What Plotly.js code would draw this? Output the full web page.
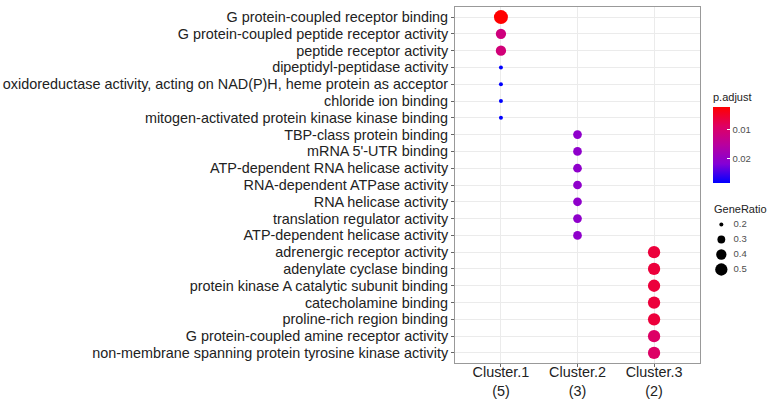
<!DOCTYPE html>
<html>
<head>
<meta charset="utf-8">
<script src="https://cdn.plot.ly/plotly-3.0.1.min.js"></script>
<style>html,body{margin:0;padding:0;background:#fff;}#chart{width:768px;height:400px;}</style>
</head>
<body>
<div id="chart"></div>
<script>
// ---- data ----
var clusterLabels = ["Cluster.1<br>(5)", "Cluster.2<br>(3)", "Cluster.3<br>(2)"];
var terms = [
  "G protein-coupled receptor binding",
  "G protein-coupled peptide receptor activity",
  "peptide receptor activity",
  "dipeptidyl-peptidase activity",
  "oxidoreductase activity, acting on NAD(P)H, heme protein as acceptor",
  "chloride ion binding",
  "mitogen-activated protein kinase kinase binding",
  "TBP-class protein binding",
  "mRNA 5'-UTR binding",
  "ATP-dependent RNA helicase activity",
  "RNA-dependent ATPase activity",
  "RNA helicase activity",
  "translation regulator activity",
  "ATP-dependent helicase activity",
  "adrenergic receptor activity",
  "adenylate cyclase binding",
  "protein kinase A catalytic subunit binding",
  "catecholamine binding",
  "proline-rich region binding",
  "G protein-coupled amine receptor activity",
  "non-membrane spanning protein tyrosine kinase activity"
];
var termCluster = [0,0,0,0,0,0,0, 1,1,1,1,1,1,1, 2,2,2,2,2,2,2];
var geneRatio = [0.6,0.4,0.4,0.2,0.2,0.2,0.2,
                 0.3333,0.3333,0.3333,0.3333,0.3333,0.3333,0.3333,
                 0.5,0.5,0.5,0.5,0.5,0.5,0.5];
var pAdjust = [0.002,0.0115,0.011,0.0285,0.0285,0.0285,0.0285,
               0.0205,0.0205,0.0205,0.0205,0.0205,0.0205,0.0205,
               0.006,0.006,0.006,0.006,0.006,0.009,0.009];
var sizeLegendValues = [0.2, 0.3, 0.4, 0.5];
var pTicks = [0.01, 0.02];

// ---- scales ----
var rMin = 0.2, rMax = 0.6, dMin = 4, dMax = 14;
function diam(v){ var t=(v-rMin)/(rMax-rMin); return Math.sqrt(dMin*dMin + t*(dMax*dMax-dMin*dMin)); }
var pMin = Math.min.apply(null,pAdjust), pMax = Math.max.apply(null,pAdjust);
var cscale = [[0,'#0000FF'],[0.25,'#8400D6'],[0.5,'#B8009F'],[0.75,'#DF0062'],[1,'#FF0000']];

var FONT = 'Liberation Sans, Arial, sans-serif';
var W=768, H=400, L=455, T=7, B=37;
var plotW = W-L, plotH = H-T-B;
var panelRight = 700;
var mainDomX = (panelRight-L)/plotW;
function px2fx(px){ return (px-L)/plotW; }
function py2fy(py){ return (H-B-py)/plotH; }

var main = {
  type:'scatter', mode:'markers',
  x: termCluster.map(function(c){return clusterLabels[c];}),
  y: terms,
  marker:{
    size: geneRatio.map(diam),
    sizemode:'diameter',
    color: pAdjust.map(function(p){return -p;}),
    cmin: -pMax, cmax: -pMin,
    colorscale: cscale,
    line:{width:0},
    opacity:1,
    colorbar:{
      x: px2fx(713), xanchor:'left', xpad:0, ypad:0,
      y: py2fy(183), yanchor:'bottom',
      thickness:17, thicknessmode:'pixels',
      len:93, lenmode:'pixels',
      outlinewidth:0,
      tickvals: pTicks.map(function(p){return -p;}),
      ticktext: pTicks.map(function(p){return String(p);}),
      ticks:'inside', ticklen:3, tickcolor:'#ffffff',
      tickfont:{family:FONT, size:9.5, color:'#4d4d4d'},
      title:{text:'p.adjust', side:'top', font:{family:FONT, size:11, color:'#222'}}
    }
  },
  hoverinfo:'x+y',
  showlegend:false,
  xaxis:'x', yaxis:'y'
};

var sizeLegDots = {
  type:'scatter', mode:'markers',
  x: sizeLegendValues.map(function(){return 0;}),
  y: sizeLegendValues.map(function(v,i){return i;}),
  marker:{size: sizeLegendValues.map(diam), sizemode:'diameter', color:'#000000', opacity:1, line:{width:0}},
  showlegend:false, hoverinfo:'skip',
  xaxis:'x2', yaxis:'y2'
};
var sizeLegText = {
  type:'scatter', mode:'text',
  x: sizeLegendValues.map(function(){return 2.6;}),
  y: sizeLegendValues.map(function(v,i){return i;}),
  text: sizeLegendValues.map(function(v){return String(v);}),
  textposition:'middle right',
  textfont:{family:FONT, size:9.5, color:'#4d4d4d'},
  showlegend:false, hoverinfo:'skip',
  xaxis:'x2', yaxis:'y2'
};

var layout = {
  width:W, height:H,
  margin:{l:L, r:0, t:T, b:B, pad:0},
  paper_bgcolor:'#fff', plot_bgcolor:'#fff',
  font:{family:FONT, color:'#222'},
  xaxis:{
    domain:[0, mainDomX], type:'category', categoryorder:'array', categoryarray:clusterLabels,
    tickmode:'array', tickvals:clusterLabels, ticktext:clusterLabels,
    range:[-0.6, 2.6], showgrid:true, gridcolor:'#EBEBEB', gridwidth:1,
    showline:true, linecolor:'#999', mirror:true, linewidth:1,
    ticks:'outside', ticklen:3, tickcolor:'#666', ticklabelstandoff:-7,
    tickfont:{size:14.4, color:'#222'}, automargin:false, zeroline:false, fixedrange:true
  },
  yaxis:{
    type:'category', categoryorder:'array', categoryarray:terms,
    tickmode:'array', tickvals:terms, ticktext:terms,
    range:[terms.length-0.4, -0.6], showgrid:true, gridcolor:'#EBEBEB', gridwidth:1,
    showline:true, linecolor:'#999', mirror:true, linewidth:1,
    ticks:'outside', ticklen:3, tickcolor:'#666',
    tickfont:{size:14.4, color:'#222'}, automargin:false, zeroline:false, fixedrange:true
  },
  xaxis2:{domain:[px2fx(712), 1], range:[-2, 10], visible:false, fixedrange:true, anchor:'y2'},
  yaxis2:{domain:[py2fy(277), py2fy(217)], range:[3.5, -0.5], visible:false, fixedrange:true, anchor:'x2'},
  annotations:[{
    text:'GeneRatio', xref:'paper', yref:'paper', x:px2fx(712), y:py2fy(209),
    xanchor:'left', yanchor:'middle', showarrow:false,
    font:{family:FONT, size:11, color:'#222'}
  }]
};

Plotly.newPlot('chart', [main, sizeLegDots, sizeLegText], layout, {displayModeBar:false, staticPlot:true});
</script>
</body>
</html>
